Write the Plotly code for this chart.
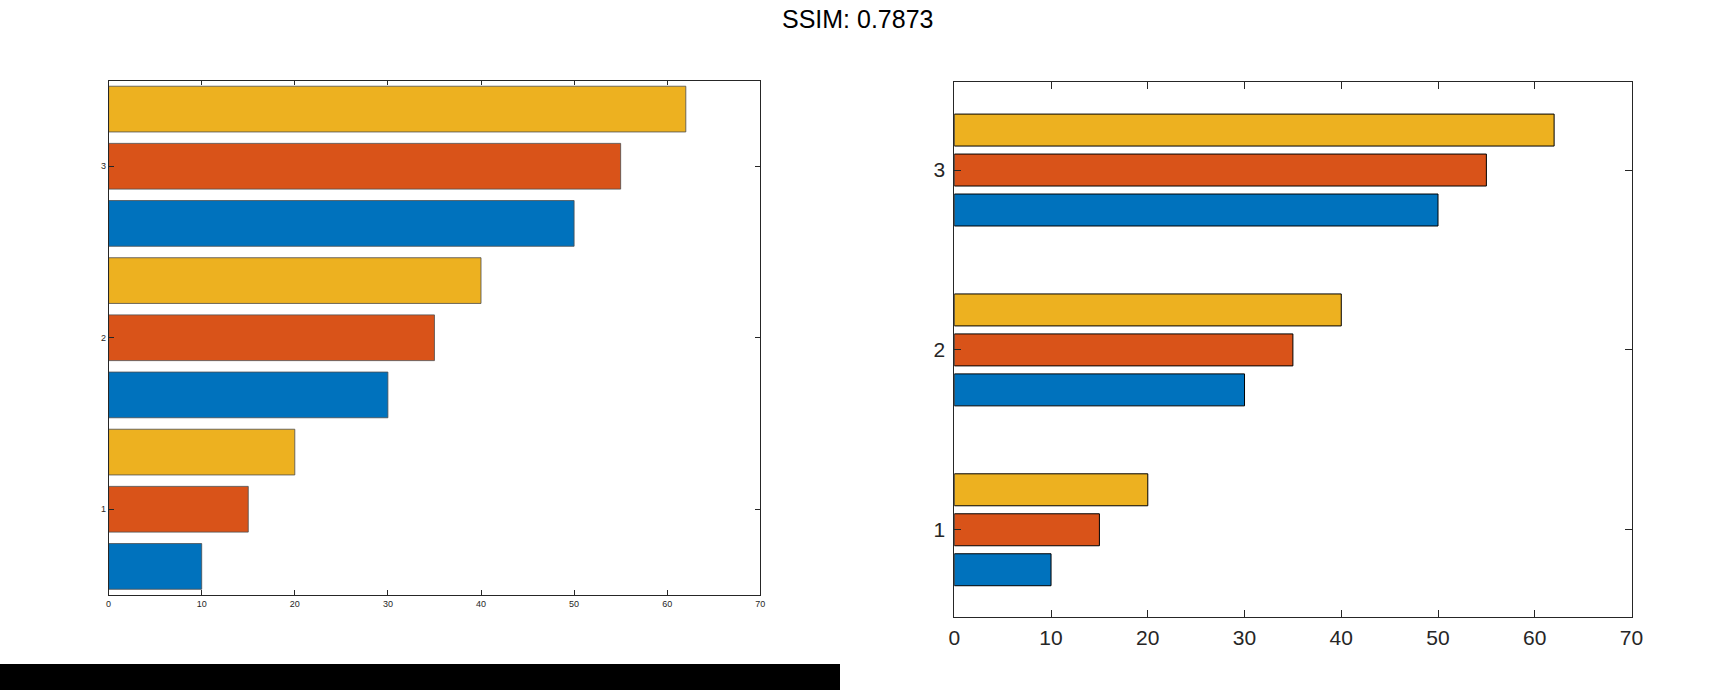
import plotly.graph_objects as go

groups = [1, 2, 3]
series_blue = [10, 30, 50]
series_red = [15, 35, 55]
series_yellow = [20, 40, 62]
x_ticks = [0, 10, 20, 30, 40, 50, 60, 70]
y_ticks = [1, 2, 3]

colors = ["#0072BD", "#D95319", "#EDB120"]
series = [series_blue, series_red, series_yellow]

W, H = 1715, 690
def px_x(a, b):
    return [a / W, b / W]
def px_y(top, bottom):
    return [1 - bottom / H, 1 - top / H]

fig = go.Figure()
slot_l = 1 / 3
bw_l = 0.8 * slot_l
for i, (vals, c) in enumerate(zip(series, colors)):
    fig.add_trace(go.Bar(
        y=groups, x=vals, orientation="h", xaxis="x", yaxis="y",
        width=bw_l, offset=(i - 1) * slot_l - bw_l / 2,
        marker=dict(color=c, line=dict(color="#4d4d4d", width=0.8)),
        showlegend=False))
slot_r = (3 / 4.5) / 3
bw_r = 0.8 * slot_r
for i, (vals, c) in enumerate(zip(series, colors)):
    fig.add_trace(go.Bar(
        y=groups, x=vals, orientation="h", xaxis="x2", yaxis="y2",
        width=bw_r, offset=(i - 1) * slot_r - bw_r / 2,
        marker=dict(color=c, line=dict(color="#000000", width=1)),
        showlegend=False))

axis_common = dict(showgrid=False, zeroline=False, showline=True, mirror="ticks",
                   ticks="inside", tickcolor="#262626", linecolor="#262626",
                   automargin=False)

fig.update_layout(
    width=W, height=H, margin=dict(l=0, r=0, t=0, b=0, pad=0, autoexpand=False),
    paper_bgcolor="white", plot_bgcolor="white", barmode="overlay",
    showlegend=False,
    font=dict(family="Liberation Sans, Arial, sans-serif", color="#262626"),
    xaxis=dict(domain=px_x(108.6, 760.3), anchor="y", range=[0, 70],
               tickvals=x_ticks, ticklen=5, linewidth=0.8,
               tickfont=dict(size=9, color="#262626"), **axis_common),
    yaxis=dict(domain=px_y(80.5, 595), anchor="x", range=[0.5, 3.5],
               tickvals=y_ticks, ticklen=5, linewidth=0.8,
               tickfont=dict(size=9, color="#262626"), **axis_common),
    xaxis2=dict(domain=px_x(954.3, 1631.5), anchor="y2", range=[0, 70],
                tickvals=x_ticks, ticklen=7, linewidth=1, ticklabelstandoff=2,
                tickfont=dict(size=21, color="#262626"), **axis_common),
    yaxis2=dict(domain=px_y(81.9, 617), anchor="x2", range=[0.515, 3.49],
                tickvals=y_ticks, ticklen=7, linewidth=1, ticklabelstandoff=4,
                tickfont=dict(size=21, color="#262626"), **axis_common),
    annotations=[dict(text="SSIM: 0.7873", x=857 / W, y=1 - 19.5 / H,
                      xref="paper", yref="paper", xanchor="center", yanchor="middle",
                      showarrow=False, font=dict(size=25, color="#000000",
                                                 family="Liberation Sans, Arial, sans-serif"))],
    shapes=[dict(type="rect", xref="paper", yref="paper",
                 x0=0, x1=840 / W, y0=0, y1=1 - 664 / H,
                 fillcolor="#000000", line=dict(width=0), layer="above")],
)

post = (
    "document.body.style.margin='0px';"
    "document.body.style.overflow='hidden';"
    "document.documentElement.style.overflow='hidden';"
)

fig.write_html("out.html", config={"displayModeBar": False}, post_script=post)
